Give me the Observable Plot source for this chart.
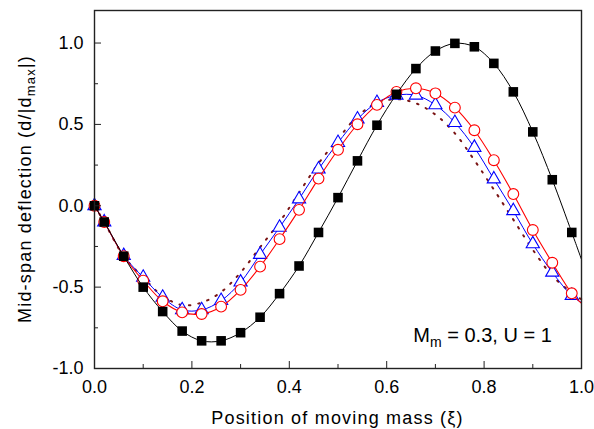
<!DOCTYPE html>
<html><head><meta charset="utf-8">
<script src="https://cdn.jsdelivr.net/npm/d3@7"></script>
<script src="https://cdn.jsdelivr.net/npm/@observablehq/plot@0.6"></script>
<style>body{margin:0;background:#fff} svg{display:block}</style>
</head><body><div id="chart"></div>
<script>
// Position of moving mass (xi)
const xi = [0, 0.02, 0.06, 0.10, 0.14, 0.18, 0.22, 0.26, 0.30, 0.34, 0.38, 0.42, 0.46, 0.50, 0.54, 0.58, 0.62, 0.66, 0.70, 0.74, 0.78, 0.82, 0.86, 0.90, 0.94, 0.98, 1.00];
// black squares
const black = [0, -0.10, -0.31, -0.50, -0.65, -0.77, -0.83, -0.83, -0.78, -0.685, -0.54, -0.37, -0.164, 0.05, 0.276, 0.495, 0.685, 0.843, 0.951, 0.998, 0.977, 0.875, 0.70, 0.454, 0.16, -0.164, -0.33];
// red open circles
const red = [0, -0.10, -0.31, -0.46, -0.587, -0.655, -0.665, -0.62, -0.517, -0.374, -0.205, -0.025, 0.167, 0.344, 0.501, 0.62, 0.70, 0.722, 0.691, 0.603, 0.464, 0.28, 0.072, -0.149, -0.35, -0.538, -0.60];
// blue open triangles
const blue = [0, -0.10, -0.307, -0.44, -0.563, -0.64, -0.64, -0.583, -0.47, -0.30, -0.133, 0.041, 0.225, 0.388, 0.532, 0.634, 0.679, 0.679, 0.62, 0.511, 0.358, 0.164, -0.031, -0.235, -0.409, -0.552, -0.595];
// dark red dotted line
const dotted = [0, -0.10, -0.31, -0.44, -0.555, -0.61, -0.595, -0.53, -0.41, -0.255, -0.10, 0.08, 0.26, 0.41, 0.55, 0.63, 0.655, 0.63, 0.56, 0.445, 0.28, 0.10, -0.085, -0.27, -0.43, -0.535, -0.575];

const xTicksMajor = [0, 0.2, 0.4, 0.6, 0.8, 1.0];
const xTicksMinor = [0.1, 0.3, 0.5, 0.7, 0.9];
const yTicksMajor = [-1.0, -0.5, 0.0, 0.5, 1.0];
const yTicksMinor = [-0.75, -0.25, 0.25, 0.75];

const xLabel = "Position of moving mass (ξ)";
const yLabelMain = "Mid-span deflection (d/|d";
const yLabelSub = "max";
const yLabelEnd = "|)";
const noteMain = "M";
const noteSub = "m";
const noteEnd = " = 0.3, U = 1";

const rows = xi.map((x, i) => ({xi: x, black: black[i], red: red[i], blue: blue[i], dotted: dotted[i]}));
const markerRows = rows.filter((d, i) => i < rows.length - 1);

const fmt = d => d.toFixed(1);
const font = "'Liberation Sans', Arial, Helvetica, sans-serif";

const plot = Plot.plot({
  width: 594, height: 429,
  marginLeft: 94, marginRight: 13, marginTop: 10, marginBottom: 61,
  x: {domain: [0, 1]},
  y: {domain: [-1, 1.2]},
  style: {fontFamily: font, fontSize: "18px", color: "black", background: "white"},
  marks: [
    Plot.line(rows, {x: "xi", y: "dotted", stroke: "#7a1414", strokeWidth: 2, strokeDasharray: "1.5,8", curve: "catmull-rom"}),
    Plot.line(rows, {x: "xi", y: "blue", stroke: "#0000ff", strokeWidth: 1, curve: "catmull-rom"}),
    Plot.dot(markerRows, {x: "xi", y: "blue", symbol: "triangle", r: 4.9, stroke: "#0000ff", fill: "white", strokeWidth: 1.1}),
    Plot.line(rows, {x: "xi", y: "red", stroke: "#ff0000", strokeWidth: 1.1, curve: "catmull-rom"}),
    Plot.dot(markerRows, {x: "xi", y: "red", symbol: "circle", r: 5.4, stroke: "#ff0000", fill: "white", strokeWidth: 1.1}),
    Plot.line(rows, {x: "xi", y: "black", stroke: "black", strokeWidth: 1, curve: "catmull-rom"}),
    Plot.dot(markerRows, {x: "xi", y: "black", symbol: "square", r: 5.4, fill: "black", stroke: "none"}),
    Plot.frame({stroke: "#222", strokeWidth: 1.4}),
    Plot.axisX(xTicksMajor, {tickSize: -7, fill: "none", label: null, stroke: "#222"}),
    Plot.axisX(xTicksMinor, {tickSize: -4, fill: "none", label: null, stroke: "#222"}),
    Plot.axisY(yTicksMajor, {tickSize: -7, fill: "none", label: null, stroke: "#222"}),
    Plot.axisY(yTicksMinor, {tickSize: -4, fill: "none", label: null, stroke: "#222"}),
    Plot.axisX(xTicksMajor, {tickSize: 0, tickPadding: 12, tickFormat: fmt, label: null, fontSize: 18}),
    Plot.axisY(yTicksMajor, {tickSize: 0, tickPadding: 11, tickFormat: fmt, label: null, fontSize: 18})
  ]
});

document.getElementById("chart").appendChild(plot);

const svg = d3.select(plot);
const xs = plot.scale("x"), ys = plot.scale("y");
const xMid = (xs.range[0] + xs.range[1]) / 2;
const yMid = (ys.range[0] + ys.range[1]) / 2;

svg.append("text")
  .attr("x", xMid).attr("y", 424)
  .attr("text-anchor", "middle")
  .style("font-family", font).style("font-size", "18px").style("letter-spacing", "1.2px")
  .attr("fill", "black")
  .text(xLabel);

const yl = svg.append("text")
  .attr("transform", `translate(31,${yMid}) rotate(-90)`)
  .attr("text-anchor", "middle")
  .style("font-family", font).style("font-size", "18px").style("letter-spacing", "1.2px")
  .attr("fill", "black");
yl.append("tspan").text(yLabelMain);
yl.append("tspan").attr("dy", 4).style("font-size", "13px").text(yLabelSub);
yl.append("tspan").attr("dy", -4).text(yLabelEnd);

const note = svg.append("text")
  .attr("x", xs.apply(0.94)).attr("y", ys.apply(-0.84))
  .attr("text-anchor", "end")
  .style("font-family", font).style("font-size", "20px")
  .attr("fill", "black");
note.append("tspan").text(noteMain);
note.append("tspan").attr("dy", 5).style("font-size", "14px").text(noteSub);
note.append("tspan").attr("dy", -5).text(noteEnd);
</script>
</body></html>
